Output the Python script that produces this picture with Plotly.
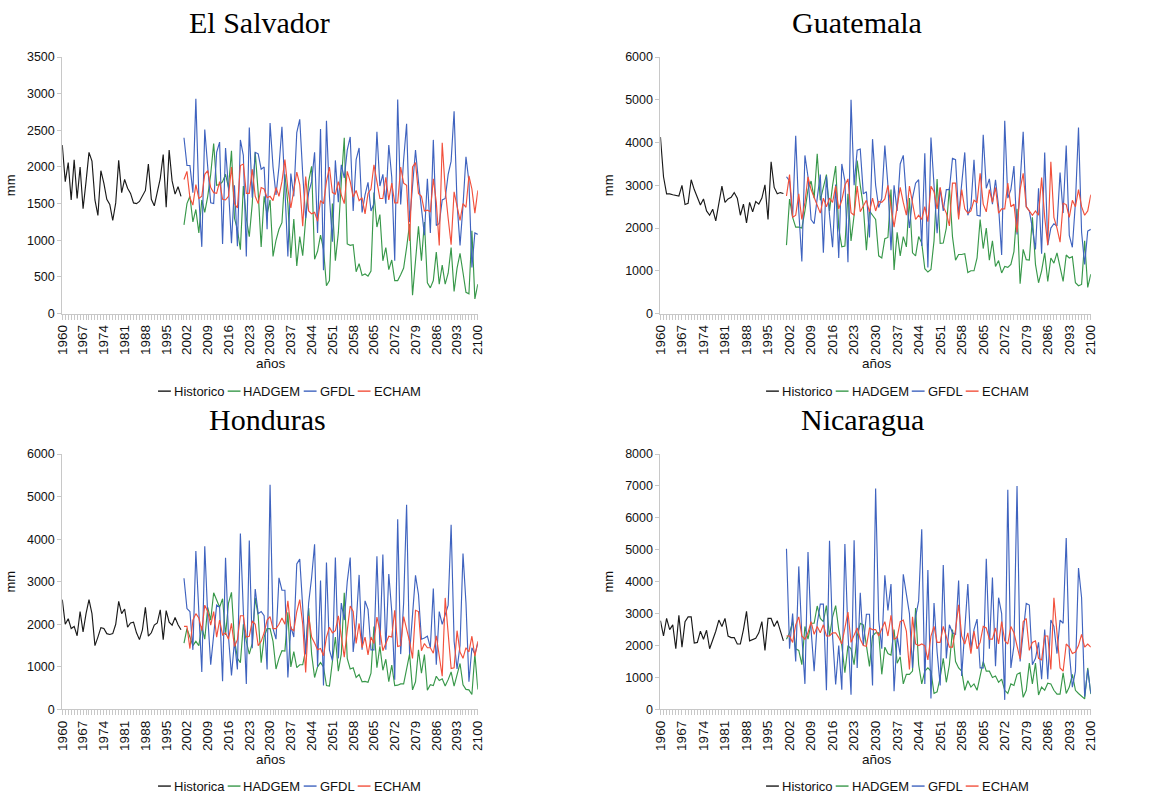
import plotly.graph_objects as go

hist_years = list(range(1960, 2001))
proj_years = list(range(2001, 2101))
tick_years = list(range(1960, 2101, 7))

# ---------------- El Salvador ----------------
sv_hist = [2300, 1800, 2060, 1550, 2100, 1570, 2000, 1430, 1800, 2200,
           2080, 1550, 1340, 1950, 1780, 1560, 1490, 1270, 1510, 2090,
           1650, 1830, 1710, 1640, 1510, 1500, 1530, 1600, 1680, 2040,
           1560, 1470, 1640, 1840, 2170, 1450, 2230, 1810, 1630, 1730, 1600]
sv_gfdl = [2400, 2020, 2020, 1650, 2930, 1600, 910, 2510, 2000, 1510,
           1500, 2200, 2340, 950, 2260, 1700, 960, 1750, 920, 2370,
           2160, 780, 2540, 1580, 2200, 2180, 1970, 2000, 1150, 2600,
           2000, 1620, 2000, 2550, 1700, 780, 1910, 1600, 2470, 2650,
           1900, 1300, 1650, 1800, 2200, 1100, 2520, 590, 2630, 1600,
           980, 2090, 1520, 2030, 1850, 2230, 2410, 1400, 2100, 2260,
           1380, 1620, 1790, 1400, 1500, 2480, 1740, 1900, 1500, 2300,
           1860, 720, 2920, 1490, 2100, 2590, 1250, 1730, 2230, 1800,
           1400, 1070, 1840, 1100, 2370, 1200, 1230, 1550, 1570, 1900,
           2080, 2760, 1500, 930, 1470, 2140, 1800, 630, 1100, 1080]
sv_hadgem = [1210, 1500, 1600, 1250, 1420, 1100, 1550, 1380, 1600, 1900,
             2320, 1750, 1760, 1800, 1900, 1720, 2220, 1300, 1150, 870,
             1740, 1300, 1050, 1500, 2200, 1650, 910, 1600, 1350, 1550,
             780, 1000, 1150, 1240, 1900, 1500, 760, 1290, 650, 1050,
             790, 1300, 1800, 2010, 740, 850, 1070, 880, 380, 450,
             1500, 720, 1100, 1800, 2400, 950, 930, 940, 570, 680,
             520, 540, 510, 580, 1650, 1180, 1350, 720, 900, 600,
             730, 450, 450, 530, 620, 900, 1220, 250, 700, 1190,
             720, 1250, 420, 350, 450, 840, 400, 660, 400, 550,
             900, 300, 620, 820, 560, 290, 270, 1130, 200, 400]
sv_echam = [1830, 1940, 1580, 1480, 1760, 1570, 1600, 1900, 1950, 1720,
            1650, 1640, 1800, 1560, 1550, 1600, 2000, 1500, 1440, 2020,
            2040, 1640, 1640, 1970, 1600, 1500, 1720, 1700, 1580, 1600,
            1540, 1720, 1600, 1800, 2100, 1700, 1440, 1700, 1930, 1760,
            1190, 1870, 1400, 1360, 1380, 1260, 1540, 1500, 1800, 2000,
            1650, 1630, 1800, 1620, 1500, 1940, 1800, 1590, 1680, 1540,
            1580, 1360, 1640, 1700, 2030, 1800, 1570, 1570, 1860, 1550,
            1780, 1510, 1510, 2000, 1780, 1750, 990, 2000, 2060, 1640,
            1600, 1400, 1410, 1390, 1840, 1520, 930, 2330, 1700, 1300,
            940, 1660, 1440, 1270, 1500, 1450, 1880, 1700, 1370, 1680]

# ---------------- Guatemala ----------------
gt_hist = [4130, 3200, 2800, 2800, 2780, 2760, 2750, 3000, 2550, 2580,
           3130, 2900, 2720, 2540, 2680, 2400, 2300, 2440, 2170, 2600,
           2980, 2600, 2680, 2720, 2830, 2700, 2300, 2560, 2120, 2600,
           2380, 2620, 2560, 2700, 3010, 2200, 3550, 2950, 2800, 2830, 2810]
gt_gfdl = [3200, 3100, 2250, 4160, 2400, 1220, 3700, 3200, 2200, 2100,
           2700, 3250, 1420, 3210, 2300, 1550, 3020, 1300, 3500, 3100,
           1200, 5000, 3000, 3820, 3850, 2800, 2850, 1780, 4080, 3000,
           2480, 2700, 3930, 3000, 1480, 3000, 2400, 3500, 3700, 2700,
           2000, 2700, 3050, 3130, 1580, 3750, 1080, 4120, 3000, 1880,
           2940, 2400, 2900, 2900, 3630, 3600, 2300, 3000, 3770, 2300,
           2500, 3600, 2300, 2280, 4180, 2930, 3150, 2560, 3130, 2500,
           1370, 4510, 2700, 2900, 3450, 1850, 3000, 4250, 2500, 2400,
           2000, 1500, 2930, 1400, 3770, 1600, 2000, 2100, 2050, 3300,
           2350, 3930, 1830, 1550, 2600, 4350, 1900, 1150, 1930, 1970]
gt_hadgem = [1600, 2680, 2250, 2020, 2020, 2000, 2400, 2900, 3100, 2700,
             3740, 2650, 2950, 3250, 2400, 3000, 3450, 2000, 1560, 1580,
             2800, 1700, 2300, 3580, 3000, 2500, 1480, 2400, 2300, 2200,
             1350, 1300, 1750, 1780, 2900, 1020, 1900, 1350, 1800, 1560,
             2700, 1420, 1350, 1800, 1650, 1050, 970, 1030, 1700, 3150,
             1640, 1650, 2000, 2950, 1800, 1250, 1380, 1380, 1400, 960,
             1000, 1000, 1300, 2200, 1520, 2000, 1250, 1700, 1100, 1240,
             950, 1100, 1080, 1150, 1450, 2450, 700, 1500, 1260, 1250,
             2250, 1150, 720, 1000, 1420, 750, 1300, 1180, 1420, 1100,
             750, 1370, 1300, 1330, 720, 650, 680, 1700, 610, 920]
gt_echam = [2750, 3250, 2250, 2300, 2800, 2200, 2600, 3200, 2900, 2700,
            2500, 2350, 2700, 2500, 2700, 2600, 2980, 2450, 2650, 3000,
            3150, 2360, 2300, 2980, 2380, 2500, 2650, 2380, 2700, 2400,
            2620, 2600, 2680, 3000, 2550, 2020, 2500, 2950, 2600, 2300,
            2980, 2550, 2200, 2300, 2200, 2500, 2150, 2980, 2850, 2450,
            2950, 2500, 2350, 2050, 3050, 3050, 2200, 2900, 2450, 2350,
            2400, 2650, 2600, 3280, 2560, 2380, 2900, 2600, 2950, 2350,
            2450, 2450, 3050, 2500, 2560, 1900, 2900, 3280, 2500, 2400,
            2300, 2400, 2300, 3180, 2250, 1600, 3550, 2250, 2000, 1670,
            2580, 2550, 2250, 2650, 2500, 2900, 2500, 2300, 2400, 2780]

# ---------------- Honduras ----------------
hn_hist = [2580, 2000, 2130, 1900, 1950, 1730, 2300, 1820, 2250, 2580,
           2250, 1500, 1700, 1920, 1900, 1780, 1760, 1780, 2000, 2540,
           2250, 2360, 1930, 2030, 2050, 1800, 1640, 1870, 2400, 1720,
           1800, 1980, 2030, 2340, 1640, 2320, 2050, 1980, 2160, 1990, 1870]
hn_gfdl = [3080, 2370, 2300, 1400, 3720, 2300, 880, 3830, 2200, 1050,
           1800, 2450, 2400, 660, 3560, 1700, 800, 1600, 940, 4130,
           2300, 600, 3970, 1440, 2830, 2250, 2300, 2200, 940, 5280,
           1900, 1650, 3090, 2800, 2800, 750, 1950, 1700, 3420, 3530,
           2400, 1300, 2500, 3100, 3880, 1000, 3030, 560, 3450, 1400,
           1150, 3570, 1200, 2500, 2100, 3000, 3570, 1350, 2000, 3160,
           1400, 2550, 2350, 1400, 1400, 3600, 1500, 3640, 1400, 3180,
           2300, 700, 4470, 1300, 2500, 4810, 1300, 2300, 3150, 2700,
           1650, 1680, 1720, 1450, 2840, 1050, 2300, 2000, 2200, 2450,
           4340, 1600, 950, 1500, 3660, 2500, 650, 1450, 1300, 1550]
hn_hadgem = [1560, 1900, 1700, 1500, 1600, 1500, 1950, 1650, 2400, 2100,
             2740, 2550, 2400, 2600, 1750, 2500, 2750, 1650, 1200, 1100,
             2000, 1600, 1300, 1550, 2620, 2200, 1100, 1700, 1900, 1900,
             1600, 950, 1200, 1380, 1370, 2280, 1000, 1360, 980, 1050,
             1050, 1400, 2380, 1300, 750, 1000, 1100, 1000, 560, 550,
             1200, 1700, 900, 1300, 2740, 1200, 950, 980, 750, 820,
             650, 660, 640, 850, 1950, 980, 1480, 920, 1180, 650,
             1040, 560, 570, 600, 600, 1000, 1300, 460, 650, 1400,
             850, 1290, 450, 580, 560, 780, 680, 720, 550, 700,
             880, 550, 820, 1080, 580, 470, 460, 350, 1300, 470]
hn_echam = [1950, 1950, 1430, 2100, 2250, 2150, 1850, 2450, 2300, 1980,
            2300, 1700, 2100, 1750, 1800, 1650, 2020, 1480, 1640, 2200,
            2200, 1700, 1720, 2080, 2000, 1500, 1600, 1800, 2100, 2180,
            1900, 1900, 2000, 2150, 2000, 2550, 1900, 1850, 2300, 2580,
            2000, 870, 2200, 1700, 1560, 1400, 1430, 1260, 1700, 1930,
            1800, 1850, 2200, 1700, 1230, 1850, 2430, 2300, 1550, 2020,
            1450, 1700, 1280, 1700, 1550, 2170, 1850, 1380, 1550, 1720,
            1700, 2330, 1480, 1500, 2180, 1900, 1600, 1200, 2330, 2300,
            1380, 1550, 1450, 1450, 1320, 1730, 1230, 780, 2620, 1700,
            960, 980, 1850, 1350, 1200, 1450, 1350, 1720, 1250, 1600]

# ---------------- Nicaragua ----------------
ni_hist = [2780, 2300, 2850, 2500, 2650, 1900, 2950, 1950, 2750, 2900,
           2900, 2080, 2100, 2450, 2200, 2480, 1900, 2150, 2450, 2800,
           2600, 2850, 2300, 2250, 2250, 2050, 2050, 2500, 3070, 2150,
           2200, 2230, 2400, 2750, 1850, 2850, 2850, 2600, 2780, 2500, 2150]
ni_gfdl = [5030, 1900, 3000, 1500, 4480, 2300, 800, 4930, 2500, 1200,
           2700, 3300, 3300, 600, 5280, 2300, 780, 2000, 620, 5180,
           2400, 460, 5300, 1300, 3650, 2000, 2980, 2980, 750, 6920,
           2800, 1900, 4200, 3100, 3930, 570, 2300, 1700, 4230, 3600,
           3000, 1300, 2900, 3400, 5640, 800, 4370, 340, 3330, 1800,
           750, 4520, 1600, 2650, 2400, 2350, 4040, 1050, 2500, 3930,
           1900, 2500, 2830, 1300, 1300, 4720, 1900, 4130, 1350, 3500,
           3000, 300, 6880, 1300, 2000, 7000, 1500, 2500, 3320, 3270,
           1400, 1600, 2100, 950, 2500, 950, 2800, 2600, 1750, 2800,
           2700, 5370, 1800, 700, 1200, 4430, 3500, 400, 1250, 500]
ni_hadgem = [2200, 2400, 2750, 1900, 1850, 1400, 2600, 2200, 2700, 2700,
             3240, 2850, 2750, 3250, 2300, 2900, 3250, 2500, 2000, 1150,
             2000, 1900, 1400, 2300, 2700, 2650, 2000, 1350, 2300, 2400,
             2400, 1100, 1950, 1750, 1700, 2500, 1450, 1650, 800, 1100,
             1100, 1200, 3180, 1400, 800, 1200, 1300, 1200, 500, 550,
             1000, 1600, 850, 1400, 2500, 1500, 1300, 1200, 600, 900,
             700, 800, 600, 1000, 1500, 1200, 1200, 1000, 1050, 850,
             950, 600, 500, 800, 750, 1100, 1150, 380, 600, 1450,
             800, 1450, 450, 700, 600, 820, 800, 600, 480, 480,
             1150, 500, 700, 1100, 600, 500, 400, 330, 1300, 480]
ni_echam = [2300, 2300, 2100, 2650, 2900, 2300, 2200, 2400, 2750, 2350,
            2600, 2400, 2650, 2300, 2300, 2400, 2400, 2250, 2050, 2600,
            3050, 2100, 2300, 2550, 2200, 2000, 1980, 2550, 2500, 2500,
            2300, 2500, 2750, 2300, 2950, 2200, 2250, 2750, 2800, 2450,
            1250, 2900, 2050, 2000, 2050, 2000, 1550, 2300, 2600, 2100,
            2100, 2600, 2300, 1950, 1950, 2500, 3280, 2300, 2050, 2400,
            1750, 2450, 1900, 2100, 2600, 2550, 2200, 2200, 2550, 2050,
            2750, 2150, 2050, 2600, 2400, 1950, 1580, 2750, 2850, 1850,
            2100, 2150, 1600, 1550, 2300, 2300, 1250, 3500, 2300, 1300,
            1200, 2050, 1950, 1750, 1800, 2000, 2350, 1950, 2050, 1950]

panels = [
    dict(title="El Salvador", hist_name="Historico", hist=sv_hist, had=sv_hadgem,
         gfdl=sv_gfdl, echam=sv_echam, ymax=3500, dtick=500),
    dict(title="Guatemala", hist_name="Historico", hist=gt_hist, had=gt_hadgem,
         gfdl=gt_gfdl, echam=gt_echam, ymax=6000, dtick=1000),
    dict(title="Honduras", hist_name="Historica", hist=hn_hist, had=hn_hadgem,
         gfdl=hn_gfdl, echam=hn_echam, ymax=6000, dtick=1000),
    dict(title="Nicaragua", hist_name="Historico", hist=ni_hist, had=ni_hadgem,
         gfdl=ni_gfdl, echam=ni_echam, ymax=8000, dtick=1000),
]

W, H = 1159, 797
# plot areas in pixels: (x0, x1, ytop, ybottom)
boxes = [(55, 476, 51, 312), (661, 1097, 51, 312),
         (55, 476, 455, 715), (661, 1097, 455, 715)]
title_y = [16, 16, 420, 420]
title_x = [255, 860, 263, 866]
xlab_y = [363, 363, 766, 766]
legend_y = [391, 391, 793, 793]
legend_x0 = [152, 768, 152, 768]

COL_H = "#1a1a1a"
COL_HAD = "#38984a"
COL_GFDL = "#3f63bf"
COL_ECH = "#f2503c"

LEG_FS = 13
# approximate Liberation Sans advance widths (em) for legend layout
CW = {"H": .722, "i": .222, "s": .5, "t": .278, "o": .556, "r": .333, "c": .5,
      "a": .556, "A": .667, "D": .722, "G": .778, "E": .667, "M": .833,
      "F": .611, "L": .556, "C": .722}


def text_w(s, fs):
    return sum(CW.get(ch, .55) for ch in s) * fs


fig = go.Figure()
annotations, shapes = [], []
layout = dict(width=W, height=H, margin=dict(l=0, r=0, t=0, b=0),
              plot_bgcolor="white", paper_bgcolor="white",
              font=dict(family="Liberation Sans, Arial", size=12, color="#111"),
              showlegend=False)

for i, (p, box) in enumerate(zip(panels, boxes)):
    n = i + 1
    xs = "x" if n == 1 else f"x{n}"
    ys = "y" if n == 1 else f"y{n}"
    x0, x1, yt, yb = box
    series = [(p["hist_name"], hist_years, p["hist"], COL_H),
              ("HADGEM", proj_years, p["had"], COL_HAD),
              ("GFDL", proj_years, p["gfdl"], COL_GFDL),
              ("ECHAM", proj_years, p["echam"], COL_ECH)]
    for name, xv, yv, c in series:
        fig.add_trace(go.Scatter(x=xv, y=yv, mode="lines", name=name,
                                 line=dict(color=c, width=1.15),
                                 xaxis=xs, yaxis=ys))
    xa = dict(domain=[x0 / W, x1 / W], range=[1960, 2100], anchor=ys,
              tickmode="array", tickvals=tick_years,
              ticktext=[str(t) for t in tick_years], tickangle=-90,
              showline=True, linecolor="#c8c8c8", linewidth=1,
              ticks="outside", ticklen=5, tickcolor="#c8c8c8",
              minor=dict(dtick=1, tick0=1960, ticks="outside", ticklen=5,
                         tickcolor="#c8c8c8", showgrid=False),
              showgrid=False, zeroline=False,
              tickfont=dict(size=13.5, color="#111"))
    ya = dict(domain=[1 - yb / H, 1 - yt / H], range=[0, p["ymax"]], anchor=xs,
              dtick=p["dtick"], tick0=0, showline=True, linecolor="#c8c8c8",
              linewidth=1, ticks="outside", ticklen=4, tickcolor="#c8c8c8",
              showgrid=False, zeroline=False,
              tickfont=dict(size=12.5, color="#111"),
              title=dict(text="mm", font=dict(size=13, color="#111"), standoff=8))
    layout["xaxis" if n == 1 else f"xaxis{n}"] = xa
    layout["yaxis" if n == 1 else f"yaxis{n}"] = ya
    cx = (x0 + x1) / 2
    annotations.append(dict(
        text=p["title"], x=title_x[i] / W, y=1 - title_y[i] / H, xref="paper",
        yref="paper", showarrow=False, xanchor="center", yanchor="middle",
        font=dict(family="Liberation Serif, Times New Roman", size=30, color="#000")))
    annotations.append(dict(
        text="años", x=(cx + 1) / W, y=1 - xlab_y[i] / H, xref="paper", yref="paper",
        showarrow=False, xanchor="center", yanchor="middle",
        font=dict(size=13.5, color="#111")))
    # legend: short line sample + label for each series
    ly = 1 - legend_y[i] / H
    lx = legend_x0[i]
    for name, _, _, c in series:
        shapes.append(dict(type="line", xref="paper", yref="paper",
                           x0=lx / W, x1=(lx + 13) / W, y0=ly, y1=ly,
                           line=dict(color=c, width=1.4)))
        annotations.append(dict(
            text=name, x=(lx + 14) / W, y=ly, xref="paper", yref="paper",
            showarrow=False, xanchor="left", yanchor="middle",
            font=dict(size=LEG_FS, color="#111")))
        lx += 14 + text_w(name, LEG_FS) + 6

layout["annotations"] = annotations
layout["shapes"] = shapes
fig.update_layout(**layout)
fig.write_html("out.html", config={"displayModeBar": False},
               post_script="document.body.style.margin='0';")
